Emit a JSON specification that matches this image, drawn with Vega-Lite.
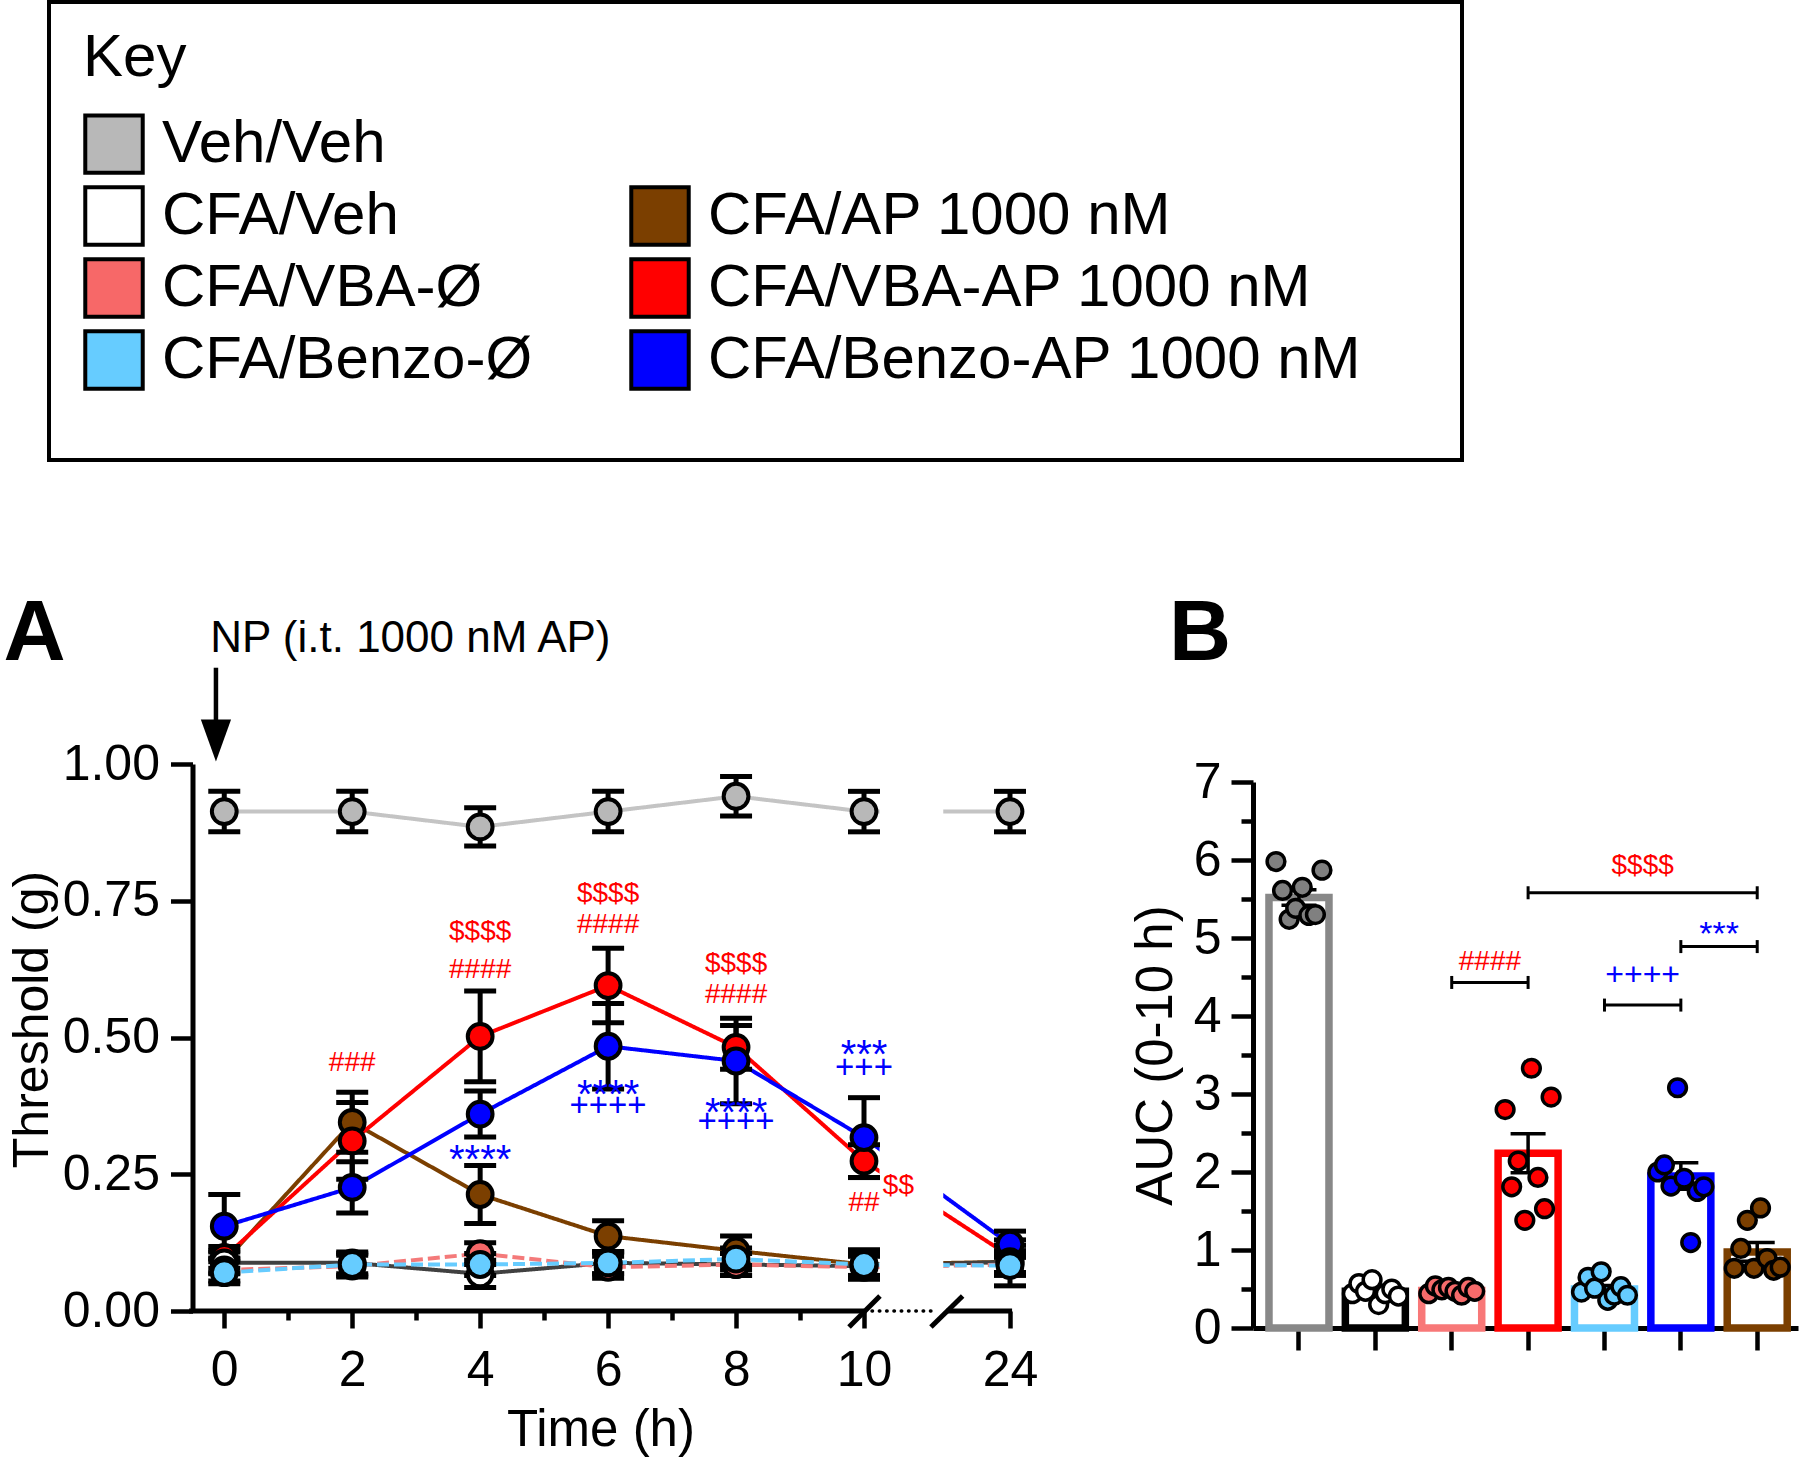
{
  "$schema": "https://vega.github.io/schema/vega-lite/v6.json",
  "width": 1800,
  "height": 1459,
  "padding": 0,
  "autosize": {"type": "none"},
  "background": "white",
  "config": {
    "view": {"stroke": null},
    "font": "Liberation Sans",
    "axis": {"labelFont": "Liberation Sans", "titleFont": "Liberation Sans", "labelColor": "#000", "titleColor": "#000", "domainColor": "#000", "tickColor": "#000", "grid": false, "domainWidth": 5, "tickWidth": 4.5, "labelFlush": false, "labelOverlap": false, "titleFontWeight": "normal"},
    "legend": {"labelFont": "Liberation Sans", "titleFont": "Liberation Sans"},
    "text": {"font": "Liberation Sans"},
    "tick": {"opacity": 1},
    "rule": {"opacity": 1}
  },
  "datasets": {
    "tc": [
      {"group": "Veh/Veh", "time": 0, "threshold": 0.913, "sem": 0.037},
      {"group": "Veh/Veh", "time": 2, "threshold": 0.913, "sem": 0.037},
      {"group": "Veh/Veh", "time": 4, "threshold": 0.885, "sem": 0.035},
      {"group": "Veh/Veh", "time": 6, "threshold": 0.913, "sem": 0.037},
      {"group": "Veh/Veh", "time": 8, "threshold": 0.941, "sem": 0.036},
      {"group": "Veh/Veh", "time": 10, "threshold": 0.913, "sem": 0.037},
      {"group": "Veh/Veh", "time": 24, "threshold": 0.913, "sem": 0.037},
      {"group": "CFA/AP 1000 nM", "time": 0, "threshold": 0.09, "sem": 0.02},
      {"group": "CFA/AP 1000 nM", "time": 2, "threshold": 0.345, "sem": 0.055},
      {"group": "CFA/AP 1000 nM", "time": 4, "threshold": 0.213, "sem": 0.053},
      {"group": "CFA/AP 1000 nM", "time": 6, "threshold": 0.137, "sem": 0.028},
      {"group": "CFA/AP 1000 nM", "time": 8, "threshold": 0.11, "sem": 0.027},
      {"group": "CFA/AP 1000 nM", "time": 10, "threshold": 0.085, "sem": 0.02},
      {"group": "CFA/AP 1000 nM", "time": 24, "threshold": 0.09, "sem": 0.02},
      {"group": "CFA/VBA-AP 1000 nM", "time": 0, "threshold": 0.098, "sem": 0.02},
      {"group": "CFA/VBA-AP 1000 nM", "time": 2, "threshold": 0.311, "sem": 0.07},
      {"group": "CFA/VBA-AP 1000 nM", "time": 4, "threshold": 0.502, "sem": 0.083},
      {"group": "CFA/VBA-AP 1000 nM", "time": 6, "threshold": 0.595, "sem": 0.068},
      {"group": "CFA/VBA-AP 1000 nM", "time": 8, "threshold": 0.482, "sem": 0.04},
      {"group": "CFA/VBA-AP 1000 nM", "time": 10, "threshold": 0.274, "sem": 0.03},
      {"group": "CFA/VBA-AP 1000 nM", "time": 24, "threshold": 0.1, "sem": 0.03},
      {"group": "CFA/Benzo-AP 1000 nM", "time": 0, "threshold": 0.155, "sem": 0.058},
      {"group": "CFA/Benzo-AP 1000 nM", "time": 2, "threshold": 0.226, "sem": 0.047},
      {"group": "CFA/Benzo-AP 1000 nM", "time": 4, "threshold": 0.36, "sem": 0.042},
      {"group": "CFA/Benzo-AP 1000 nM", "time": 6, "threshold": 0.484, "sem": 0.078},
      {"group": "CFA/Benzo-AP 1000 nM", "time": 8, "threshold": 0.457, "sem": 0.078},
      {"group": "CFA/Benzo-AP 1000 nM", "time": 10, "threshold": 0.317, "sem": 0.073},
      {"group": "CFA/Benzo-AP 1000 nM", "time": 24, "threshold": 0.122, "sem": 0.024},
      {"group": "CFA/Veh", "time": 0, "threshold": 0.088, "sem": 0.02},
      {"group": "CFA/Veh", "time": 2, "threshold": 0.088, "sem": 0.02},
      {"group": "CFA/Veh", "time": 4, "threshold": 0.068, "sem": 0.025},
      {"group": "CFA/Veh", "time": 6, "threshold": 0.088, "sem": 0.02},
      {"group": "CFA/Veh", "time": 8, "threshold": 0.085, "sem": 0.02},
      {"group": "CFA/Veh", "time": 10, "threshold": 0.082, "sem": 0.02},
      {"group": "CFA/Veh", "time": 24, "threshold": 0.09, "sem": 0.02},
      {"group": "CFA/VBA-Ø", "time": 0, "threshold": 0.075, "sem": 0.02},
      {"group": "CFA/VBA-Ø", "time": 2, "threshold": 0.082, "sem": 0.02},
      {"group": "CFA/VBA-Ø", "time": 4, "threshold": 0.105, "sem": 0.02},
      {"group": "CFA/VBA-Ø", "time": 6, "threshold": 0.08, "sem": 0.02},
      {"group": "CFA/VBA-Ø", "time": 8, "threshold": 0.085, "sem": 0.02},
      {"group": "CFA/VBA-Ø", "time": 10, "threshold": 0.08, "sem": 0.02},
      {"group": "CFA/VBA-Ø", "time": 24, "threshold": 0.085, "sem": 0.02},
      {"group": "CFA/Benzo-Ø", "time": 0, "threshold": 0.07, "sem": 0.02},
      {"group": "CFA/Benzo-Ø", "time": 2, "threshold": 0.085, "sem": 0.02},
      {"group": "CFA/Benzo-Ø", "time": 4, "threshold": 0.085, "sem": 0.02},
      {"group": "CFA/Benzo-Ø", "time": 6, "threshold": 0.088, "sem": 0.02},
      {"group": "CFA/Benzo-Ø", "time": 8, "threshold": 0.095, "sem": 0.02},
      {"group": "CFA/Benzo-Ø", "time": 10, "threshold": 0.085, "sem": 0.027},
      {"group": "CFA/Benzo-Ø", "time": 24, "threshold": 0.083, "sem": 0.037}
    ],
    "annA": [
      {"time": 2, "threshold": 0.454, "label": "###", "group": "CFA/VBA-AP 1000 nM"},
      {"time": 4, "threshold": 0.693, "label": "$$$$", "group": "CFA/VBA-AP 1000 nM"},
      {"time": 4, "threshold": 0.623, "label": "####", "group": "CFA/VBA-AP 1000 nM"},
      {"time": 6, "threshold": 0.763, "label": "$$$$", "group": "CFA/VBA-AP 1000 nM"},
      {"time": 6, "threshold": 0.705, "label": "####", "group": "CFA/VBA-AP 1000 nM"},
      {"time": 8, "threshold": 0.635, "label": "$$$$", "group": "CFA/VBA-AP 1000 nM"},
      {"time": 8, "threshold": 0.577, "label": "####", "group": "CFA/VBA-AP 1000 nM"},
      {"time": 10, "threshold": 0.198, "label": "##", "group": "CFA/VBA-AP 1000 nM"},
      {"time": 13.3, "threshold": 0.229, "label": "$$", "group": "CFA/VBA-AP 1000 nM"},
      {"time": 4, "threshold": 0.29, "label": "****", "group": "CFA/Benzo-AP 1000 nM"},
      {"time": 6, "threshold": 0.409, "label": "****", "group": "CFA/Benzo-AP 1000 nM"},
      {"time": 6, "threshold": 0.375, "label": "++++", "group": "CFA/Benzo-AP 1000 nM"},
      {"time": 8, "threshold": 0.377, "label": "****", "group": "CFA/Benzo-AP 1000 nM"},
      {"time": 8, "threshold": 0.345, "label": "++++", "group": "CFA/Benzo-AP 1000 nM"},
      {"time": 10, "threshold": 0.483, "label": "***", "group": "CFA/Benzo-AP 1000 nM"},
      {"time": 10, "threshold": 0.444, "label": "+++", "group": "CFA/Benzo-AP 1000 nM"}
    ],
    "aucbar": [
      {"group": "Veh/Veh", "mean": 5.52, "sem": 0.1},
      {"group": "CFA/Veh", "mean": 0.47, "sem": 0.035},
      {"group": "CFA/VBA-Ø", "mean": 0.48, "sem": 0.015},
      {"group": "CFA/VBA-AP 1000 nM", "mean": 2.24, "sem": 0.25},
      {"group": "CFA/Benzo-Ø", "mean": 0.5, "sem": 0.045},
      {"group": "CFA/Benzo-AP 1000 nM", "mean": 1.95, "sem": 0.17},
      {"group": "CFA/AP 1000 nM", "mean": 0.975, "sem": 0.12}
    ],
    "auc": [
      {"group": "Veh/Veh", "rep": "1", "auc": 5.98},
      {"group": "Veh/Veh", "rep": "2", "auc": 5.61},
      {"group": "Veh/Veh", "rep": "3", "auc": 5.24},
      {"group": "Veh/Veh", "rep": "4", "auc": 5.38},
      {"group": "Veh/Veh", "rep": "5", "auc": 5.65},
      {"group": "Veh/Veh", "rep": "6", "auc": 5.29},
      {"group": "Veh/Veh", "rep": "7", "auc": 5.3},
      {"group": "Veh/Veh", "rep": "8", "auc": 5.87},
      {"group": "CFA/Veh", "rep": "1", "auc": 0.44},
      {"group": "CFA/Veh", "rep": "2", "auc": 0.57},
      {"group": "CFA/Veh", "rep": "3", "auc": 0.47},
      {"group": "CFA/Veh", "rep": "4", "auc": 0.62},
      {"group": "CFA/Veh", "rep": "5", "auc": 0.3},
      {"group": "CFA/Veh", "rep": "6", "auc": 0.44},
      {"group": "CFA/Veh", "rep": "7", "auc": 0.5},
      {"group": "CFA/Veh", "rep": "8", "auc": 0.41},
      {"group": "CFA/VBA-Ø", "rep": "1", "auc": 0.44},
      {"group": "CFA/VBA-Ø", "rep": "2", "auc": 0.54},
      {"group": "CFA/VBA-Ø", "rep": "3", "auc": 0.49},
      {"group": "CFA/VBA-Ø", "rep": "4", "auc": 0.52},
      {"group": "CFA/VBA-Ø", "rep": "5", "auc": 0.47},
      {"group": "CFA/VBA-Ø", "rep": "6", "auc": 0.42},
      {"group": "CFA/VBA-Ø", "rep": "7", "auc": 0.52},
      {"group": "CFA/VBA-Ø", "rep": "8", "auc": 0.47},
      {"group": "CFA/VBA-AP 1000 nM", "rep": "1", "auc": 2.8},
      {"group": "CFA/VBA-AP 1000 nM", "rep": "2", "auc": 1.81},
      {"group": "CFA/VBA-AP 1000 nM", "rep": "3", "auc": 2.14},
      {"group": "CFA/VBA-AP 1000 nM", "rep": "4", "auc": 1.38},
      {"group": "CFA/VBA-AP 1000 nM", "rep": "5", "auc": 3.33},
      {"group": "CFA/VBA-AP 1000 nM", "rep": "6", "auc": 1.93},
      {"group": "CFA/VBA-AP 1000 nM", "rep": "7", "auc": 1.53},
      {"group": "CFA/VBA-AP 1000 nM", "rep": "8", "auc": 2.96},
      {"group": "CFA/Benzo-Ø", "rep": "1", "auc": 0.46},
      {"group": "CFA/Benzo-Ø", "rep": "2", "auc": 0.65},
      {"group": "CFA/Benzo-Ø", "rep": "3", "auc": 0.51},
      {"group": "CFA/Benzo-Ø", "rep": "4", "auc": 0.72},
      {"group": "CFA/Benzo-Ø", "rep": "5", "auc": 0.355},
      {"group": "CFA/Benzo-Ø", "rep": "6", "auc": 0.42},
      {"group": "CFA/Benzo-Ø", "rep": "7", "auc": 0.53},
      {"group": "CFA/Benzo-Ø", "rep": "8", "auc": 0.42},
      {"group": "CFA/Benzo-AP 1000 nM", "rep": "1", "auc": 2.0},
      {"group": "CFA/Benzo-AP 1000 nM", "rep": "2", "auc": 2.09},
      {"group": "CFA/Benzo-AP 1000 nM", "rep": "3", "auc": 1.82},
      {"group": "CFA/Benzo-AP 1000 nM", "rep": "4", "auc": 3.08},
      {"group": "CFA/Benzo-AP 1000 nM", "rep": "5", "auc": 1.92},
      {"group": "CFA/Benzo-AP 1000 nM", "rep": "6", "auc": 1.095},
      {"group": "CFA/Benzo-AP 1000 nM", "rep": "7", "auc": 1.75},
      {"group": "CFA/Benzo-AP 1000 nM", "rep": "8", "auc": 1.81},
      {"group": "CFA/AP 1000 nM", "rep": "1", "auc": 0.765},
      {"group": "CFA/AP 1000 nM", "rep": "2", "auc": 1.02},
      {"group": "CFA/AP 1000 nM", "rep": "3", "auc": 1.38},
      {"group": "CFA/AP 1000 nM", "rep": "4", "auc": 0.765},
      {"group": "CFA/AP 1000 nM", "rep": "5", "auc": 1.54},
      {"group": "CFA/AP 1000 nM", "rep": "6", "auc": 0.89},
      {"group": "CFA/AP 1000 nM", "rep": "7", "auc": 0.74},
      {"group": "CFA/AP 1000 nM", "rep": "8", "auc": 0.78}
    ],
    "brk": [
      {"bracket": "VBA-AP vs AP", "group": "CFA/VBA-AP 1000 nM", "auc": 5.58},
      {"bracket": "VBA-AP vs AP", "group": "CFA/AP 1000 nM", "auc": 5.58},
      {"bracket": "Benzo-AP vs AP", "group": "CFA/Benzo-AP 1000 nM", "auc": 4.89},
      {"bracket": "Benzo-AP vs AP", "group": "CFA/AP 1000 nM", "auc": 4.89},
      {"bracket": "VBA-Ø vs VBA-AP", "group": "CFA/VBA-Ø", "auc": 4.43},
      {"bracket": "VBA-Ø vs VBA-AP", "group": "CFA/VBA-AP 1000 nM", "auc": 4.43},
      {"bracket": "Benzo-Ø vs Benzo-AP", "group": "CFA/Benzo-Ø", "auc": 4.14},
      {"bracket": "Benzo-Ø vs Benzo-AP", "group": "CFA/Benzo-AP 1000 nM", "auc": 4.14}
    ],
    "brkText": [
      {"at": "CFA/Benzo-Ø", "auc": 5.92, "label": "$$$$", "test": "VBA-AP"},
      {"at": "CFA/Benzo-AP 1000 nM", "auc": 5.13, "label": "***", "test": "Benzo-AP"},
      {"at": "CFA/VBA-Ø", "auc": 4.69, "label": "####", "test": "VBA-AP"},
      {"at": "CFA/Benzo-Ø", "auc": 4.52, "label": "++++", "test": "Benzo-AP"}
    ]
  },
  "layer": [
    {
      "data": {"values": [{"frame": "Key"}]},
      "mark": {"type": "rect", "fillOpacity": 0, "stroke": "#000", "strokeWidth": 4},
      "encoding": {
        "x": {"datum": 0, "type": "quantitative", "scale": {"domain": [0, 1], "range": [49, 1462], "nice": false, "zero": false}, "axis": null},
        "x2": {"datum": 1},
        "y": {"datum": 0, "type": "quantitative", "scale": {"domain": [0, 1], "range": [460, 2], "nice": false, "zero": false}, "axis": null},
        "y2": {"datum": 1}
      }
    },
    {
      "data": {"name": "tc"},
      "mark": {"type": "line", "strokeWidth": 4},
      "encoding": {
        "x": {"field": "time", "type": "quantitative", "scale": {"type": "linear", "domain": [-0.52, 10, 24], "range": [191, 864, 1010], "nice": false, "zero": false},
          "axis": {"orient": "bottom", "offset": -148, "values": [1, 3, 5, 7, 9], "labels": false, "domain": false, "tickSize": 9, "title": null}},
        "y": {"field": "threshold", "type": "quantitative", "scale": {"type": "linear", "domain": [0, 1], "range": [1311, 764], "nice": false, "zero": false}, "axis": null},
        "stroke": {"field": "group", "type": "nominal", "legend": null,
          "scale": {"domain": ["Veh/Veh", "CFA/AP 1000 nM", "CFA/VBA-AP 1000 nM", "CFA/Benzo-AP 1000 nM", "CFA/Veh", "CFA/VBA-Ø", "CFA/Benzo-Ø"],
                    "range": ["#c4c4c4", "#7b3f00", "#ff0000", "#0000ff", "#404040", "#f47a7a", "#66ccff"]}},
        "strokeDash": {"field": "group", "type": "nominal", "legend": null,
          "scale": {"domain": ["Veh/Veh", "CFA/AP 1000 nM", "CFA/VBA-AP 1000 nM", "CFA/Benzo-AP 1000 nM", "CFA/Veh", "CFA/VBA-Ø", "CFA/Benzo-Ø"],
                    "range": [[1, 0], [1, 0], [1, 0], [1, 0], [1, 0], [12, 5], [12, 5]]}}
      }
    },
    {
      "data": {"values": [{"mask": "axis break"}]},
      "mark": {"type": "rect", "fill": "#ffffff"},
      "encoding": {
        "x": {"datum": 11.49, "type": "quantitative", "scale": {"type": "linear", "domain": [-0.52, 10, 24], "range": [191, 864, 1010], "nice": false, "zero": false}, "axis": null},
        "x2": {"datum": 17.6},
        "y": {"datum": 0.012, "type": "quantitative", "scale": {"type": "linear", "domain": [0, 1], "range": [1311, 764], "nice": false, "zero": false}, "axis": null},
        "y2": {"datum": 0.99}
      }
    },
    {
      "data": {"name": "tc"},
      "mark": {"type": "errorbar", "ticks": {"opacity": 1, "color": "#000"}, "rule": {"opacity": 1, "color": "#000"}, "size": 32, "thickness": 5, "color": "#000"},
      "encoding": {
        "x": {"field": "time", "type": "quantitative", "scale": {"type": "linear", "domain": [-0.52, 10, 24], "range": [191, 864, 1010], "nice": false, "zero": false}, "axis": null},
        "y": {"field": "threshold", "type": "quantitative", "scale": {"type": "linear", "domain": [0, 1], "range": [1311, 764], "nice": false, "zero": false}, "axis": null},
        "yError": {"field": "sem"}
      }
    },
    {
      "data": {"name": "tc"},
      "mark": {"type": "point", "filled": true, "shape": "circle", "size": 615, "stroke": "#000", "strokeWidth": 4, "opacity": 1},
      "encoding": {
        "x": {"field": "time", "type": "quantitative", "scale": {"type": "linear", "domain": [-0.52, 10, 24], "range": [191, 864, 1010], "nice": false, "zero": false},
          "axis": {"orient": "bottom", "offset": -148, "values": [0, 2, 4, 6, 8, 10, 24], "format": "d", "domain": false, "tickSize": 17, "labelFontSize": 50, "labelPadding": 17, "title": "Time (h)", "titleFontSize": 51, "titlePadding": 10}},
        "y": {"field": "threshold", "type": "quantitative", "scale": {"type": "linear", "domain": [0, 1], "range": [1311, 764], "nice": false, "zero": false},
          "axis": {"orient": "left", "offset": -192.5, "values": [0, 0.25, 0.5, 0.75, 1], "format": ".2f", "tickSize": 22, "labelFontSize": 50, "labelPadding": 11, "title": "Threshold (g)", "titleFontSize": 50, "titlePadding": 5, "titleY": 1019}},
        "fill": {"field": "group", "type": "nominal",
          "scale": {"domain": ["Veh/Veh", "CFA/Veh", "CFA/VBA-Ø", "CFA/Benzo-Ø", " ", "CFA/AP 1000 nM", "CFA/VBA-AP 1000 nM", "CFA/Benzo-AP 1000 nM"],
                    "range": ["#b8b8b8", "#ffffff", "#f76868", "#66ccff", "#ffffff", "#7b3f00", "#ff0000", "#0000ff"]},
          "legend": {"title": "Key", "orient": "none", "legendX": 83, "legendY": 29, "columns": 2, "direction": "vertical", "symbolType": "square", "symbolSize": 3300, "symbolStrokeColor": "#000", "symbolStrokeWidth": 4, "symbolOpacity": 1, "labelFontSize": 60, "labelColor": "#000", "labelOffset": 17, "labelLimit": 2000, "columnPadding": 90, "rowPadding": -2, "titleFontSize": 60, "titleFontWeight": "normal", "titleColor": "#000", "titlePadding": 24, "padding": 0,
            "encode": {"symbols": {"update": {"opacity": {"signal": "datum.value === ' ' ? 0 : 1"}}}}}}
      }
    },
    {
      "data": {"values": [{"axis": "x"}]},
      "mark": {"type": "rule", "strokeWidth": 5, "color": "#000"},
      "encoding": {
        "x": {"datum": -0.55, "type": "quantitative", "scale": {"type": "linear", "domain": [-0.52, 10, 24], "range": [191, 864, 1010], "nice": false, "zero": false}, "axis": null},
        "x2": {"datum": 10},
        "y": {"datum": 0, "type": "quantitative", "scale": {"type": "linear", "domain": [0, 1], "range": [1311, 764], "nice": false, "zero": false}, "axis": null}
      }
    },
    {
      "data": {"values": [{"axis": "x"}]},
      "mark": {"type": "rule", "strokeWidth": 3.5, "color": "#000", "strokeDash": [0.5, 6.8], "strokeCap": "round"},
      "encoding": {
        "x": {"datum": 10.77, "type": "quantitative", "scale": {"type": "linear", "domain": [-0.52, 10, 24], "range": [191, 864, 1010], "nice": false, "zero": false}, "axis": null},
        "x2": {"datum": 16.9},
        "y": {"datum": 0, "type": "quantitative", "scale": {"type": "linear", "domain": [0, 1], "range": [1311, 764], "nice": false, "zero": false}, "axis": null}
      }
    },
    {
      "data": {"values": [{"axis": "x"}]},
      "mark": {"type": "rule", "strokeWidth": 5, "color": "#000"},
      "encoding": {
        "x": {"datum": 17.93, "type": "quantitative", "scale": {"type": "linear", "domain": [-0.52, 10, 24], "range": [191, 864, 1010], "nice": false, "zero": false}, "axis": null},
        "x2": {"datum": 24.2},
        "y": {"datum": 0, "type": "quantitative", "scale": {"type": "linear", "domain": [0, 1], "range": [1311, 764], "nice": false, "zero": false}, "axis": null}
      }
    },
    {
      "data": {"values": [{"axis": "x"}]},
      "mark": {"type": "rule", "strokeWidth": 5, "color": "#000"},
      "encoding": {
        "x": {"datum": 9.766, "type": "quantitative", "scale": {"type": "linear", "domain": [-0.52, 10, 24], "range": [191, 864, 1010], "nice": false, "zero": false}, "axis": null},
        "x2": {"datum": 11.53},
        "y": {"datum": -0.0293, "type": "quantitative", "scale": {"type": "linear", "domain": [0, 1], "range": [1311, 764], "nice": false, "zero": false}, "axis": null},
        "y2": {"datum": 0.0274}
      }
    },
    {
      "data": {"values": [{"axis": "x"}]},
      "mark": {"type": "rule", "strokeWidth": 5, "color": "#000"},
      "encoding": {
        "x": {"datum": 16.42, "type": "quantitative", "scale": {"type": "linear", "domain": [-0.52, 10, 24], "range": [191, 864, 1010], "nice": false, "zero": false}, "axis": null},
        "x2": {"datum": 19.46},
        "y": {"datum": -0.0293, "type": "quantitative", "scale": {"type": "linear", "domain": [0, 1], "range": [1311, 764], "nice": false, "zero": false}, "axis": null},
        "y2": {"datum": 0.0274}
      }
    },
    {
      "data": {"name": "annA"},
      "transform": [{"filter": {"field": "label", "oneOf": ["###", "####", "$$$$", "##", "$$"]}}],
      "mark": {"type": "text", "fontSize": 28, "baseline": "middle", "align": "center"},
      "encoding": {
        "x": {"field": "time", "type": "quantitative", "scale": {"type": "linear", "domain": [-0.52, 10, 24], "range": [191, 864, 1010], "nice": false, "zero": false}, "axis": null},
        "y": {"field": "threshold", "type": "quantitative", "scale": {"type": "linear", "domain": [0, 1], "range": [1311, 764], "nice": false, "zero": false}, "axis": null},
        "text": {"field": "label"},
        "color": {"field": "group", "type": "nominal", "legend": null, "scale": {"domain": ["CFA/VBA-AP 1000 nM", "CFA/Benzo-AP 1000 nM"], "range": ["#ff0000", "#0000ff"]}}
      }
    },
    {
      "data": {"name": "annA"},
      "transform": [{"filter": {"field": "label", "oneOf": ["++++", "+++"]}}],
      "mark": {"type": "text", "fontSize": 33, "baseline": "middle", "align": "center"},
      "encoding": {
        "x": {"field": "time", "type": "quantitative", "scale": {"type": "linear", "domain": [-0.52, 10, 24], "range": [191, 864, 1010], "nice": false, "zero": false}, "axis": null},
        "y": {"field": "threshold", "type": "quantitative", "scale": {"type": "linear", "domain": [0, 1], "range": [1311, 764], "nice": false, "zero": false}, "axis": null},
        "text": {"field": "label"},
        "color": {"field": "group", "type": "nominal", "legend": null, "scale": {"domain": ["CFA/VBA-AP 1000 nM", "CFA/Benzo-AP 1000 nM"], "range": ["#ff0000", "#0000ff"]}}
      }
    },
    {
      "data": {"name": "annA"},
      "transform": [{"filter": {"field": "label", "oneOf": ["****", "***"]}}],
      "mark": {"type": "text", "fontSize": 40, "baseline": "middle", "align": "center", "dy": 9},
      "encoding": {
        "x": {"field": "time", "type": "quantitative", "scale": {"type": "linear", "domain": [-0.52, 10, 24], "range": [191, 864, 1010], "nice": false, "zero": false}, "axis": null},
        "y": {"field": "threshold", "type": "quantitative", "scale": {"type": "linear", "domain": [0, 1], "range": [1311, 764], "nice": false, "zero": false}, "axis": null},
        "text": {"field": "label"},
        "color": {"field": "group", "type": "nominal", "legend": null, "scale": {"domain": ["CFA/VBA-AP 1000 nM", "CFA/Benzo-AP 1000 nM"], "range": ["#ff0000", "#0000ff"]}}
      }
    },
    {
      "data": {"values": [{"note": "NP"}]},
      "mark": {"type": "text", "text": "NP (i.t. 1000 nM AP)", "fontSize": 44, "align": "left", "baseline": "alphabetic", "dx": -14, "color": "#000"},
      "encoding": {
        "x": {"datum": 0, "type": "quantitative", "scale": {"type": "linear", "domain": [-0.52, 10, 24], "range": [191, 864, 1010], "nice": false, "zero": false}, "axis": null},
        "y": {"datum": 1.205, "type": "quantitative", "scale": {"type": "linear", "domain": [0, 1], "range": [1311, 764], "nice": false, "zero": false}, "axis": null}
      }
    },
    {
      "data": {"values": [{"note": "arrow"}]},
      "mark": {"type": "rule", "strokeWidth": 4.5, "color": "#000"},
      "encoding": {
        "x": {"datum": -0.13, "type": "quantitative", "scale": {"type": "linear", "domain": [-0.52, 10, 24], "range": [191, 864, 1010], "nice": false, "zero": false}, "axis": null},
        "y": {"datum": 1.176, "type": "quantitative", "scale": {"type": "linear", "domain": [0, 1], "range": [1311, 764], "nice": false, "zero": false}, "axis": null},
        "y2": {"datum": 1.07}
      }
    },
    {
      "data": {"values": [{"note": "arrow head"}]},
      "mark": {"type": "point", "shape": "M -0.72 -1 L 0.72 -1 L 0 1 Z", "size": 1764, "filled": true, "color": "#000", "opacity": 1, "strokeWidth": 0},
      "encoding": {
        "x": {"datum": -0.13, "type": "quantitative", "scale": {"type": "linear", "domain": [-0.52, 10, 24], "range": [191, 864, 1010], "nice": false, "zero": false}, "axis": null},
        "y": {"datum": 1.043, "type": "quantitative", "scale": {"type": "linear", "domain": [0, 1], "range": [1311, 764], "nice": false, "zero": false}, "axis": null}
      }
    },
    {
      "data": {"values": [{"panel": "A"}]},
      "mark": {"type": "text", "text": "A", "fontSize": 86, "fontWeight": "bold", "align": "left", "baseline": "alphabetic", "color": "#000"},
      "encoding": {
        "x": {"datum": -3.45, "type": "quantitative", "scale": {"type": "linear", "domain": [-0.52, 10, 24], "range": [191, 864, 1010], "nice": false, "zero": false}, "axis": null},
        "y": {"datum": 1.19, "type": "quantitative", "scale": {"type": "linear", "domain": [0, 1], "range": [1311, 764], "nice": false, "zero": false}, "axis": null}
      }
    },
    {
      "data": {"name": "aucbar"},
      "mark": {"type": "bar", "fill": "#ffffff", "strokeWidth": 7.5, "width": 60},
      "encoding": {
        "x": {"field": "group", "type": "nominal", "sort": null,
          "scale": {"type": "band", "domain": ["Veh/Veh", "CFA/Veh", "CFA/VBA-Ø", "CFA/VBA-AP 1000 nM", "CFA/Benzo-Ø", "CFA/Benzo-AP 1000 nM", "CFA/AP 1000 nM"], "range": [1253, 1798], "paddingInner": 0, "paddingOuter": 0.068, "align": 0.75},
          "axis": {"orient": "bottom", "offset": -131, "labels": false, "tickSize": 22, "title": null}},
        "y": {"field": "mean", "type": "quantitative", "stack": null, "scale": {"type": "linear", "domain": [0, 7], "range": [1328, 782], "nice": false, "zero": false},
          "axis": {"orient": "left", "offset": -1253, "values": [0, 1, 2, 3, 4, 5, 6, 7], "format": "d", "tickSize": 22, "labelFontSize": 50, "labelPadding": 10, "title": "AUC (0-10 h)", "titleFontSize": 51, "titlePadding": 11}},
        "y2": {"datum": 0},
        "stroke": {"field": "group", "type": "nominal", "legend": null,
          "scale": {"domain": ["Veh/Veh", "CFA/Veh", "CFA/VBA-Ø", "CFA/VBA-AP 1000 nM", "CFA/Benzo-Ø", "CFA/Benzo-AP 1000 nM", "CFA/AP 1000 nM"],
                    "range": ["#888888", "#000000", "#f87878", "#ff0000", "#66ccff", "#0000ff", "#7b3f00"]}}
      }
    },
    {
      "data": {"name": "aucbar"},
      "mark": {"type": "errorbar", "ticks": {"opacity": 1, "color": "#000"}, "rule": {"opacity": 1, "color": "#000"}, "size": 35, "thickness": 3.5, "color": "#000"},
      "encoding": {
        "x": {"field": "group", "type": "nominal", "sort": null,
          "scale": {"type": "band", "domain": ["Veh/Veh", "CFA/Veh", "CFA/VBA-Ø", "CFA/VBA-AP 1000 nM", "CFA/Benzo-Ø", "CFA/Benzo-AP 1000 nM", "CFA/AP 1000 nM"], "range": [1253, 1798], "paddingInner": 0, "paddingOuter": 0.068, "align": 0.75}, "axis": null},
        "y": {"field": "mean", "type": "quantitative", "scale": {"type": "linear", "domain": [0, 7], "range": [1328, 782], "nice": false, "zero": false}, "axis": null},
        "yError": {"field": "sem"}
      }
    },
    {
      "data": {"name": "auc"},
      "mark": {"type": "point", "filled": true, "shape": "circle", "size": 314, "stroke": "#000", "strokeWidth": 3.5, "opacity": 1},
      "encoding": {
        "x": {"field": "group", "type": "nominal", "sort": null,
          "scale": {"type": "band", "domain": ["Veh/Veh", "CFA/Veh", "CFA/VBA-Ø", "CFA/VBA-AP 1000 nM", "CFA/Benzo-Ø", "CFA/Benzo-AP 1000 nM", "CFA/AP 1000 nM"], "range": [1253, 1798], "paddingInner": 0, "paddingOuter": 0.068, "align": 0.75}, "axis": null},
        "xOffset": {"field": "rep", "type": "nominal", "scale": {"type": "point", "domain": ["1", "2", "3", "4", "5", "6", "7", "8"], "range": [15.2, 61.2], "padding": 0}},
        "y": {"field": "auc", "type": "quantitative", "scale": {"type": "linear", "domain": [0, 7], "range": [1328, 782], "nice": false, "zero": false},
          "axis": {"orient": "left", "offset": -1253, "values": [0.5, 1.5, 2.5, 3.5, 4.5, 5.5, 6.5], "labels": false, "domain": false, "tickSize": 12, "title": null}},
        "fill": {"field": "group", "type": "nominal", "legend": null,
          "scale": {"domain": ["Veh/Veh", "CFA/Veh", "CFA/VBA-Ø", "CFA/VBA-AP 1000 nM", "CFA/Benzo-Ø", "CFA/Benzo-AP 1000 nM", "CFA/AP 1000 nM"],
                    "range": ["#808080", "#ffffff", "#f76b6b", "#ff0000", "#66ccff", "#0000ff", "#7b3f00"]}}
      }
    },
    {
      "data": {"name": "brk"},
      "mark": {"type": "line", "strokeWidth": 3, "color": "#000"},
      "encoding": {
        "x": {"field": "group", "type": "nominal", "sort": null,
          "scale": {"type": "band", "domain": ["Veh/Veh", "CFA/Veh", "CFA/VBA-Ø", "CFA/VBA-AP 1000 nM", "CFA/Benzo-Ø", "CFA/Benzo-AP 1000 nM", "CFA/AP 1000 nM"], "range": [1253, 1798], "paddingInner": 0, "paddingOuter": 0.068, "align": 0.75}, "axis": null},
        "y": {"field": "auc", "type": "quantitative", "scale": {"type": "linear", "domain": [0, 7], "range": [1328, 782], "nice": false, "zero": false}, "axis": null},
        "detail": {"field": "bracket", "type": "nominal"}
      }
    },
    {
      "data": {"name": "brk"},
      "mark": {"type": "tick", "orient": "vertical", "size": 13, "thickness": 3, "color": "#000", "opacity": 1},
      "encoding": {
        "x": {"field": "group", "type": "nominal", "sort": null,
          "scale": {"type": "band", "domain": ["Veh/Veh", "CFA/Veh", "CFA/VBA-Ø", "CFA/VBA-AP 1000 nM", "CFA/Benzo-Ø", "CFA/Benzo-AP 1000 nM", "CFA/AP 1000 nM"], "range": [1253, 1798], "paddingInner": 0, "paddingOuter": 0.068, "align": 0.75}, "axis": null},
        "y": {"field": "auc", "type": "quantitative", "scale": {"type": "linear", "domain": [0, 7], "range": [1328, 782], "nice": false, "zero": false}, "axis": null}
      }
    },
    {
      "data": {"name": "brkText"},
      "transform": [{"filter": {"field": "label", "oneOf": ["$$$$", "####"]}}],
      "mark": {"type": "text", "fontSize": 28, "baseline": "middle", "align": "center"},
      "encoding": {
        "x": {"field": "at", "type": "nominal", "sort": null, "bandPosition": 1,
          "scale": {"type": "band", "domain": ["Veh/Veh", "CFA/Veh", "CFA/VBA-Ø", "CFA/VBA-AP 1000 nM", "CFA/Benzo-Ø", "CFA/Benzo-AP 1000 nM", "CFA/AP 1000 nM"], "range": [1253, 1798], "paddingInner": 0, "paddingOuter": 0.068, "align": 0.75}, "axis": null},
        "y": {"field": "auc", "type": "quantitative", "scale": {"type": "linear", "domain": [0, 7], "range": [1328, 782], "nice": false, "zero": false}, "axis": null},
        "text": {"field": "label"},
        "color": {"field": "test", "type": "nominal", "legend": null, "scale": {"domain": ["VBA-AP", "Benzo-AP"], "range": ["#ff0000", "#0000ff"]}}
      }
    },
    {
      "data": {"name": "brkText"},
      "transform": [{"filter": {"field": "label", "oneOf": ["++++"]}}],
      "mark": {"type": "text", "fontSize": 32, "baseline": "middle", "align": "center"},
      "encoding": {
        "x": {"field": "at", "type": "nominal", "sort": null, "bandPosition": 1,
          "scale": {"type": "band", "domain": ["Veh/Veh", "CFA/Veh", "CFA/VBA-Ø", "CFA/VBA-AP 1000 nM", "CFA/Benzo-Ø", "CFA/Benzo-AP 1000 nM", "CFA/AP 1000 nM"], "range": [1253, 1798], "paddingInner": 0, "paddingOuter": 0.068, "align": 0.75}, "axis": null},
        "y": {"field": "auc", "type": "quantitative", "scale": {"type": "linear", "domain": [0, 7], "range": [1328, 782], "nice": false, "zero": false}, "axis": null},
        "text": {"field": "label"},
        "color": {"field": "test", "type": "nominal", "legend": null, "scale": {"domain": ["VBA-AP", "Benzo-AP"], "range": ["#ff0000", "#0000ff"]}}
      }
    },
    {
      "data": {"name": "brkText"},
      "transform": [{"filter": {"field": "label", "oneOf": ["***"]}}],
      "mark": {"type": "text", "fontSize": 34, "baseline": "middle", "align": "center", "dy": 7},
      "encoding": {
        "x": {"field": "at", "type": "nominal", "sort": null, "bandPosition": 1,
          "scale": {"type": "band", "domain": ["Veh/Veh", "CFA/Veh", "CFA/VBA-Ø", "CFA/VBA-AP 1000 nM", "CFA/Benzo-Ø", "CFA/Benzo-AP 1000 nM", "CFA/AP 1000 nM"], "range": [1253, 1798], "paddingInner": 0, "paddingOuter": 0.068, "align": 0.75}, "axis": null},
        "y": {"field": "auc", "type": "quantitative", "scale": {"type": "linear", "domain": [0, 7], "range": [1328, 782], "nice": false, "zero": false}, "axis": null},
        "text": {"field": "label"},
        "color": {"field": "test", "type": "nominal", "legend": null, "scale": {"domain": ["VBA-AP", "Benzo-AP"], "range": ["#ff0000", "#0000ff"]}}
      }
    },
    {
      "data": {"values": [{"panel": "B"}]},
      "mark": {"type": "text", "text": "B", "fontSize": 86, "fontWeight": "bold", "align": "left", "baseline": "alphabetic", "dx": -130, "color": "#000"},
      "encoding": {
        "x": {"datum": "Veh/Veh", "type": "nominal",
          "scale": {"type": "band", "domain": ["Veh/Veh", "CFA/Veh", "CFA/VBA-Ø", "CFA/VBA-AP 1000 nM", "CFA/Benzo-Ø", "CFA/Benzo-AP 1000 nM", "CFA/AP 1000 nM"], "range": [1253, 1798], "paddingInner": 0, "paddingOuter": 0.068, "align": 0.75}, "axis": null},
        "y": {"datum": 8.565, "type": "quantitative", "scale": {"type": "linear", "domain": [0, 7], "range": [1328, 782], "nice": false, "zero": false}, "axis": null}
      }
    }
  ],
  "resolve": {
    "scale": {"x": "independent", "y": "independent", "fill": "independent", "stroke": "independent", "color": "independent", "strokeDash": "independent"},
    "axis": {"x": "independent", "y": "independent"},
    "legend": {"fill": "independent", "stroke": "independent", "color": "independent", "strokeDash": "independent"}
  }
}
